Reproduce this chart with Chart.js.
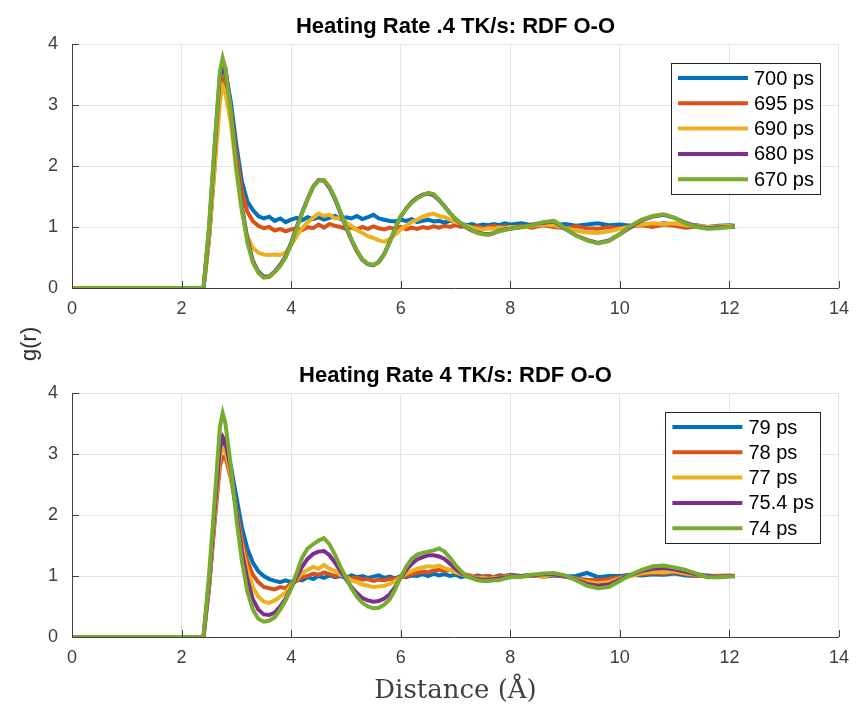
<!DOCTYPE html>
<html>
<head>
<meta charset="utf-8">
<script src="https://cdn.jsdelivr.net/npm/chart.js@4.4.1/dist/chart.umd.min.js"></script>
<style>
  body { margin: 0; background: #fff; }
  #wrap { position: relative; width: 859px; height: 711px; }
  canvas { position: absolute; left: 0; }
  #top { top: 0; }
  #bottom { top: 350px; }
  #ylab {
    position: absolute; left: 29px; top: 344px;
    transform: translate(-50%, -50%) rotate(-90deg);
    font: 22px "Liberation Sans", Arial, sans-serif; color: #262626;
    white-space: nowrap;
  }
</style>
</head>
<body>
<div id="wrap">
  <canvas id="top" width="859" height="340"></canvas>
  <canvas id="bottom" width="859" height="361"></canvas>
  <div id="ylab">g(r)</div>
</div>
<script>
// distance grid (Angstrom), shared by every curve
const rVals = [0, 2.4, 2.5, 2.6, 2.7, 2.75, 2.8, 2.9, 3.0, 3.1, 3.2,
  3.3, 3.4, 3.5, 3.6, 3.7, 3.8, 3.9, 4.0, 4.1, 4.2,
  4.3, 4.4, 4.5, 4.6, 4.7, 4.8, 4.9, 5.0, 5.1, 5.2,
  5.3, 5.4, 5.5, 5.6, 5.7, 5.8, 5.9, 6.0, 6.1, 6.2,
  6.3, 6.4, 6.5, 6.6, 6.7, 6.8, 6.9, 7.0, 7.1, 7.2,
  7.3, 7.4, 7.5, 7.6, 7.7, 7.8, 7.9, 8.0,
  8.2, 8.4, 8.6, 8.8, 9.0, 9.2, 9.4, 9.6, 9.8, 10.0,
  10.2, 10.4, 10.6, 10.8, 11.0, 11.2, 11.4, 11.6, 11.8, 12.0, 12.1];

// --- heating rate .4 TK/s ---
const topLabels = ["700 ps", "695 ps", "690 ps", "680 ps", "670 ps"];
const top700 = [0, 0, 0.8, 2.0, 3.3, 3.6, 3.55, 3.05, 2.35, 1.75, 1.42,
  1.28, 1.18, 1.14, 1.17, 1.1, 1.14, 1.08, 1.12, 1.15, 1.11,
  1.16, 1.13, 1.16, 1.12, 1.15, 1.18, 1.13, 1.16, 1.14, 1.18,
  1.13, 1.16, 1.2, 1.14, 1.12, 1.1, 1.09, 1.12, 1.1, 1.13,
  1.08, 1.1, 1.12, 1.09, 1.1, 1.07, 1.1, 1.08, 1.06, 1.03,
  1.05, 1.02, 1.04, 1.03, 1.05, 1.03, 1.06, 1.04,
  1.06, 1.03, 1.05, 1.03, 1.05, 1.02, 1.04, 1.06, 1.03, 1.04,
  1.02, 1.05, 1.03, 1.06, 1.04, 1.02, 1.03, 1.0, 1.02, 1.03, 1.02];
const top695 = [0, 0, 0.8, 2.0, 3.2, 3.45, 3.4, 2.95, 2.2, 1.6, 1.25,
  1.1, 1.02, 0.98, 1.0, 0.94, 0.97, 0.93, 0.96, 0.98, 0.95,
  1.0, 0.98, 1.04, 0.99, 1.05, 1.02, 1.0, 0.97, 0.99, 0.96,
  1.0, 0.97, 1.01, 0.98, 0.96, 0.99, 0.97, 1.0, 0.96, 0.99,
  0.97, 1.0, 0.98, 1.01, 0.99, 1.02, 1.0, 1.03, 1.0, 1.02,
  0.99, 1.01, 0.98, 1.0, 1.02, 0.99, 1.01, 0.98,
  1.02, 0.99, 1.03, 1.0, 0.98, 1.01, 0.98, 0.97, 1.0, 0.98,
  1.01, 1.03, 1.0, 1.04, 1.02, 0.99, 1.01, 0.98, 1.0, 1.01, 1.0];
const top690 = [0, 0, 0.8, 1.9, 3.05, 3.3, 3.2, 2.7, 1.9, 1.25, 0.85,
  0.66, 0.58, 0.55, 0.54, 0.55, 0.54, 0.58, 0.7, 0.85, 0.98,
  1.08, 1.15, 1.22, 1.18, 1.2, 1.14, 1.15, 1.08, 1.02, 0.95,
  0.9, 0.85, 0.82, 0.78, 0.76, 0.8, 0.88, 0.96, 1.02, 1.08,
  1.12, 1.17, 1.2, 1.22, 1.18, 1.16, 1.12, 1.08, 1.05, 1.02,
  0.99, 0.97, 0.96, 0.98, 0.97, 0.99, 0.98, 1.0,
  0.99, 1.02, 1.04, 1.03, 0.98, 0.94, 0.91, 0.9, 0.93, 0.97,
  1.01, 1.04, 1.06, 1.05, 1.06, 1.03, 1.02, 1.0, 1.01, 1.02, 1.01];
const top680 = [0, 0, 0.95, 2.25, 3.5, 3.7, 3.6, 2.95, 2.05, 1.35, 0.8,
  0.45, 0.27, 0.19, 0.19, 0.27, 0.38, 0.52, 0.74, 1.0, 1.24,
  1.46, 1.66, 1.77, 1.76, 1.64, 1.46, 1.23, 1.0, 0.79, 0.6,
  0.46, 0.39, 0.37, 0.43, 0.56, 0.76, 0.98, 1.17, 1.3, 1.41,
  1.48, 1.53, 1.55, 1.52, 1.44, 1.34, 1.23, 1.13, 1.05, 0.99,
  0.94, 0.91, 0.89, 0.88, 0.9, 0.94, 0.96, 0.97,
  1.0, 1.04, 1.07, 1.09, 0.97, 0.86, 0.79, 0.74, 0.78, 0.88,
  1.0, 1.11, 1.17, 1.2, 1.15, 1.07, 1.01, 0.98, 0.99, 1.0, 1.01];
const top670 = [0, 0, 1.0, 2.3, 3.55, 3.77, 3.6, 2.9, 2.0, 1.3, 0.75,
  0.42, 0.25, 0.17, 0.18, 0.26, 0.36, 0.5, 0.72, 0.98, 1.22,
  1.45, 1.65, 1.76, 1.77, 1.66, 1.48, 1.25, 1.02, 0.8, 0.62,
  0.47, 0.4, 0.38, 0.42, 0.55, 0.75, 0.98, 1.18, 1.3, 1.4,
  1.47, 1.52, 1.56, 1.54, 1.45, 1.33, 1.22, 1.14, 1.06, 1.0,
  0.95, 0.9, 0.88, 0.87, 0.9, 0.93, 0.95, 0.97,
  1.0, 1.03, 1.08, 1.1, 0.98, 0.86, 0.78, 0.73, 0.77, 0.88,
  1.02, 1.12, 1.18, 1.21, 1.15, 1.06, 1.0, 0.97, 0.98, 1.0, 1.01];

// --- heating rate 4 TK/s ---
const botLabels = ["79 ps", "78 ps", "77 ps", "75.4 ps", "74 ps"];
const bot79 = [0, 0, 0.8, 1.9, 2.95, 3.2, 3.15, 2.8, 2.3, 1.8, 1.45,
  1.22, 1.08, 1.0, 0.95, 0.92, 0.9, 0.93, 0.9, 0.95, 0.93,
  0.98, 0.95, 1.0, 0.97, 1.01, 0.98, 1.0, 0.97, 1.01, 0.98,
  1.0, 0.97, 0.99, 1.01, 0.97, 0.99, 0.96, 1.0, 0.98, 1.01,
  1.0, 1.03, 1.0, 1.04, 1.01, 1.03, 1.0, 1.02, 0.98, 1.0,
  0.97, 1.01, 0.99, 1.0, 0.98, 1.01, 1.0, 1.02,
  1.0, 1.02, 0.99, 1.01, 0.99, 1.0, 1.05, 0.98, 1.0, 1.0,
  1.02, 1.01, 1.03, 1.02, 1.04, 1.01, 1.0, 1.01, 0.99, 1.0, 1.0];
const bot78 = [0, 0, 0.8, 1.85, 2.8, 2.95, 2.95, 2.6, 2.1, 1.6, 1.25,
  1.02, 0.9, 0.82, 0.8, 0.78, 0.82, 0.8, 0.88, 0.92, 0.98,
  1.0, 1.04, 1.02, 1.06, 1.03, 1.0, 1.02, 0.98, 0.96, 0.97,
  0.94, 0.95, 0.92, 0.94, 0.93, 0.95, 0.96, 0.98, 1.0, 1.03,
  1.05, 1.07, 1.06, 1.09, 1.1, 1.08, 1.1, 1.07, 1.05, 1.02,
  1.0, 0.99, 0.98, 1.0, 0.98, 1.0, 0.99, 1.01,
  0.99, 1.01, 1.0, 1.02, 0.99, 0.96, 0.94, 0.93, 0.95, 0.98,
  1.01, 1.03, 1.05, 1.04, 1.06, 1.03, 1.01, 0.99, 1.0, 1.01, 1.0];
const bot77 = [0, 0, 0.85, 1.95, 2.95, 3.1, 3.05, 2.65, 2.05, 1.5, 1.1,
  0.82, 0.66, 0.58, 0.56, 0.6, 0.66, 0.73, 0.85, 0.95, 1.05,
  1.1, 1.15, 1.12, 1.18, 1.12, 1.08, 1.02, 0.98, 0.93, 0.9,
  0.86, 0.84, 0.82, 0.83, 0.84, 0.87, 0.92, 0.98, 1.04, 1.08,
  1.12, 1.14, 1.16, 1.15, 1.17, 1.13, 1.1, 1.06, 1.03, 1.0,
  0.98, 0.96, 0.97, 0.95, 0.97, 0.96, 0.98, 1.0,
  0.98, 1.02, 0.99, 1.03, 1.0, 0.95, 0.9, 0.88, 0.9, 0.96,
  1.0, 1.05, 1.07, 1.06, 1.08, 1.04, 1.02, 0.99, 1.01, 1.0, 1.0];
const bot754 = [0, 0, 0.9, 2.05, 3.1, 3.28, 3.2, 2.75, 2.05, 1.4, 0.95,
  0.62, 0.45, 0.37, 0.36, 0.4, 0.5, 0.63, 0.8, 0.98, 1.15,
  1.28, 1.36, 1.4, 1.41, 1.34, 1.22, 1.08, 0.95, 0.82, 0.72,
  0.64, 0.6, 0.58, 0.59, 0.63, 0.7, 0.82, 0.97, 1.1, 1.2,
  1.27, 1.31, 1.34, 1.34, 1.32, 1.28, 1.2, 1.12, 1.05, 1.0,
  0.97, 0.95, 0.94, 0.94, 0.95, 0.96, 0.97, 0.99,
  1.0, 1.01, 1.03, 1.03, 1.0, 0.94, 0.87, 0.84, 0.86, 0.94,
  1.02, 1.08, 1.12, 1.13, 1.11, 1.07, 1.03, 1.0, 0.99, 1.0, 1.0];
const bot74 = [0, 0, 1.0, 2.2, 3.45, 3.67, 3.5, 2.8, 1.95, 1.25, 0.75,
  0.45, 0.3, 0.25, 0.27, 0.32, 0.45, 0.6, 0.8, 1.05, 1.3,
  1.45, 1.52, 1.58, 1.62, 1.52, 1.35, 1.15, 0.98, 0.8, 0.66,
  0.56, 0.5, 0.47, 0.48, 0.53, 0.62, 0.78, 0.98, 1.15, 1.28,
  1.35, 1.38, 1.4, 1.42, 1.45, 1.4, 1.3, 1.18, 1.08, 1.0,
  0.96, 0.93, 0.92, 0.92, 0.93, 0.93, 0.96, 0.98,
  0.99, 1.02, 1.04, 1.05, 1.01, 0.93, 0.84, 0.8, 0.82, 0.92,
  1.02, 1.1, 1.16, 1.17, 1.14, 1.1, 1.04, 0.98, 0.98, 0.99, 0.99];

const xTicks = [0, 2, 4, 6, 8, 10, 12, 14];
const yTicks = [0, 1, 2, 3, 4];
const colors = ["#0072BD", "#D95319", "#EDB120", "#7E2F8E", "#77AC30"];
const SANS = '"Liberation Sans", Arial, Helvetica, sans-serif';

function toPoints(vals) {
  return rVals.map((r, i) => ({ x: r, y: vals[i] }));
}

// title + boxed legend + inward tick marks, matlab style
const matlabBits = {
  id: "matlabBits",
  afterDraw(chart, args, opts) {
    const { ctx, chartArea: a, scales } = chart;
    ctx.save();
    // small tick marks pointing inside
    ctx.strokeStyle = "#404040";
    ctx.lineWidth = 1;
    xTicks.forEach(t => {
      const px = Math.round(scales.x.getPixelForValue(t)) + 0.5;
      ctx.beginPath(); ctx.moveTo(px, a.bottom); ctx.lineTo(px, a.bottom - 7); ctx.stroke();
    });
    yTicks.forEach(t => {
      const py = Math.round(scales.y.getPixelForValue(t)) + 0.5;
      ctx.beginPath(); ctx.moveTo(a.left, py); ctx.lineTo(a.left + 7, py); ctx.stroke();
    });

    // title
    ctx.fillStyle = "#000";
    ctx.font = "bold 22px " + SANS;
    ctx.textAlign = "center";
    ctx.textBaseline = "middle";
    ctx.fillText(opts.title, (a.left + a.right) / 2, a.top - 17);

    // legend
    ctx.font = "20px " + SANS;
    const ds = chart.data.datasets;
    const tw = Math.max(...ds.map(d => ctx.measureText(d.label).width));
    const rowH = 25.3;
    const w = 83 + tw + 6;
    const h = rowH * ds.length + 4;
    const right = a.right - 19;
    const left = right - w;
    const top = a.top + 19;
    ctx.fillStyle = "#fff";
    ctx.fillRect(left, top, w, h);
    ctx.strokeStyle = "#262626";
    ctx.lineWidth = 1;
    ctx.strokeRect(Math.round(left) + 0.5, Math.round(top) + 0.5, Math.round(w), Math.round(h));
    ctx.textAlign = "left";
    ds.forEach((d, i) => {
      const y = top + 15 + i * rowH;
      ctx.strokeStyle = d.borderColor;
      ctx.lineWidth = 4;
      ctx.beginPath(); ctx.moveTo(left + 7, y); ctx.lineTo(left + 77, y); ctx.stroke();
      ctx.fillStyle = "#000";
      ctx.fillText(d.label, left + 83, y + 1);
    });
    ctx.restore();
  }
};

function makeChart(id, labels, series, title, padTop, xHeight, xTitle) {
  return new Chart(document.getElementById(id), {
    type: "line",
    data: {
      datasets: series.map((s, i) => ({
        label: labels[i],
        data: toPoints(s),
        borderColor: colors[i],
        borderWidth: 4,
        pointRadius: 0,
        tension: 0,
        fill: false,
        order: series.length - i   // later series drawn on top, like matlab
      }))
    },
    options: {
      responsive: false,
      devicePixelRatio: 1,
      animation: false,
      layout: { padding: { top: padTop, right: 17, bottom: 0, left: 0 } },
      plugins: {
        legend: { display: false },
        title: { display: false },
        tooltip: { enabled: false },
        matlabBits: { title: title }
      },
      scales: {
        x: {
          type: "linear", min: 0, max: 14,
          afterBuildTicks: s => { s.ticks = xTicks.map(v => ({ value: v })); },
          afterFit: s => { s.height = xHeight; },
          grid: { color: "#e3e3e3", drawTicks: false },
          border: { color: "#404040", width: 1 },
          ticks: { padding: 10, color: "#404040", font: { family: SANS, size: 18 } },
          title: xTitle ? {
            display: true, text: xTitle, color: "#404040",
            font: { family: '"DejaVu Serif", "Liberation Serif", serif', size: 26 },
            padding: { top: 0, bottom: 4 }
          } : { display: false }
        },
        y: {
          min: 0, max: 4,
          afterBuildTicks: s => { s.ticks = yTicks.map(v => ({ value: v })); },
          afterFit: s => { s.width = 72; },
          grid: { color: "#e3e3e3", drawTicks: false },
          border: { color: "#404040", width: 1 },
          ticks: { padding: 14, color: "#404040", font: { family: SANS, size: 18 } }
        }
      }
    },
    plugins: [matlabBits]
  });
}

makeChart("top", topLabels, [top700, top695, top690, top680, top670],
  "Heating Rate .4 TK/s: RDF O-O", 44, 52, null);
makeChart("bottom", botLabels, [bot79, bot78, bot77, bot754, bot74],
  "Heating Rate 4 TK/s: RDF O-O", 43, 74, "Distance (Å)");
</script>
</body>
</html>
